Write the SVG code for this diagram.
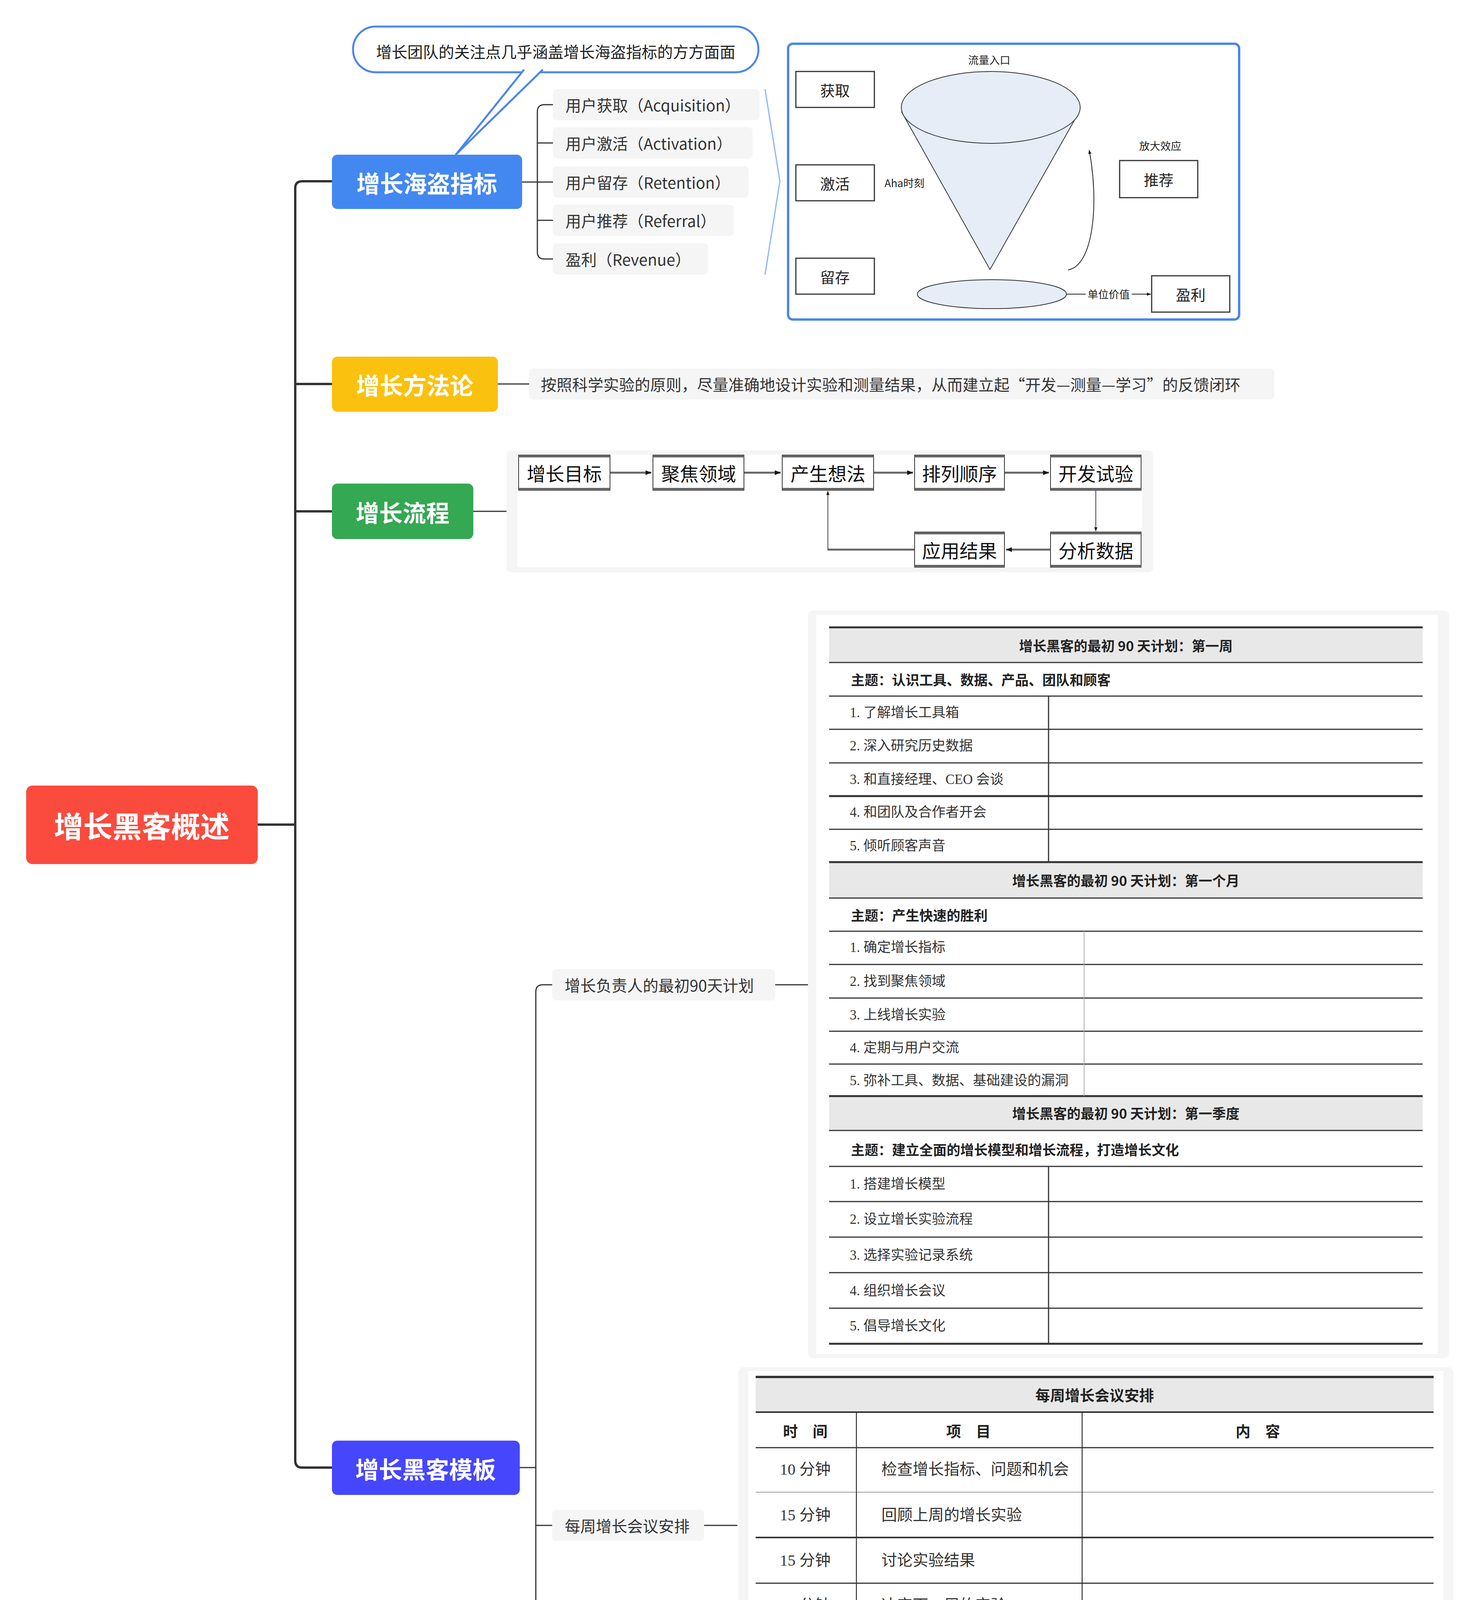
<svg xmlns="http://www.w3.org/2000/svg" width="3777" height="5720" viewBox="0 0 3777 5720">
<style>
.sans{font-family:"Noto Sans CJK SC","Noto Sans",sans-serif;}
.main{font-family:"Noto Sans CJK SC","Noto Sans",sans-serif;font-weight:bold;fill:#fff;text-anchor:middle;dominant-baseline:central;}
.lbl{font-family:"Noto Sans CJK SC","Noto Sans",sans-serif;font-size:40px;fill:#333;dominant-baseline:central;}
.lblbox{fill:#f5f5f5;}
.conn{fill:none;stroke:#333;stroke-linecap:round;}
.trunk{stroke-width:6;}
.thin{stroke-width:3;}
.imgbg{fill:#f5f5f5;}
.band{fill:#e8e8e8;}
.tl{stroke:#333;}
.tt{font-family:"Liberation Serif","Noto Sans CJK SC",serif;fill:#333;dominant-baseline:central;}
.th{font-family:"Noto Sans CJK SC",sans-serif;font-weight:bold;fill:#222;dominant-baseline:central;}
.fl{font-family:"Noto Sans CJK SC",sans-serif;fill:#222;text-anchor:middle;dominant-baseline:central;}
.fbox{fill:#fff;stroke:#333;stroke-width:3;}
.pbox{fill:#fff;stroke:#333;stroke-width:2;}
.pshade{stroke:#666;stroke-width:6;}
.pt{font-family:"Noto Sans CJK SC",sans-serif;font-size:48px;fill:#111;text-anchor:middle;dominant-baseline:central;}
.arr{fill:none;stroke:#666;stroke-width:5;}
</style>
<defs>
<marker id="ah" viewBox="0 0 10 10" refX="10" refY="5" markerWidth="5" markerHeight="5" orient="auto" markerUnits="strokeWidth">
<path d="M0,1 L10,5 L0,9 z" fill="#111"/>
</marker>
<marker id="ahs" viewBox="0 0 10 10" refX="10" refY="5" markerWidth="3" markerHeight="3" orient="auto" markerUnits="strokeWidth">
<path d="M0,1 L10,5 L0,9 z" fill="#111"/>
</marker>
</defs>

<rect width="3777" height="5720" fill="#fff"/>

<!-- connectors -->
<g id="connectors">
<path class="conn trunk" d="M660,2111 H756"/>
<path class="conn trunk" d="M850,464 H774 Q756,464 756,482 V3739 Q756,3757 774,3757 H850"/>
<path class="conn trunk" d="M756,983 H850"/>
<path class="conn trunk" d="M756,1309 H850"/>
<path class="conn thin" d="M1337,466 H1416"/>
<path class="conn thin" d="M1416,268 H1394 Q1376,268 1376,286 V645 Q1376,663 1394,663 H1416"/>
<path class="conn thin" d="M1376,366 H1416 M1376,564 H1416"/>
<path class="conn thin" d="M1275,983 H1355"/>
<path class="conn thin" d="M1212,1309 H1297"/>
<path class="conn thin" d="M1331,3757 H1372"/>
<path class="conn thin" d="M1414,2521 H1390 Q1372,2521 1372,2539 V4979 Q1372,4997 1390,4997 H1414"/>
<path class="conn thin" d="M1372,3905 H1414"/>
<path class="conn thin" d="M1985,2521 H2069"/>
<path class="conn thin" d="M1803,3905 H1887"/>
<path class="conn thin" d="M1926,4997 H2009"/>
<polyline points="1959,228 1997,464 1959,703" fill="none" stroke="#8ab4f8" stroke-width="3"/>
</g>

<g id="root">
<rect x="67" y="2011" width="593" height="201" rx="16" fill="#fa4b3e"/>
<text class="main" x="363" y="2111" font-size="75">增长黑客概述</text>
</g>

<g id="branch-aarrr">
<rect x="850" y="396" width="487" height="139" rx="14" fill="#4388f1"/>
<text class="main" x="1093" y="466" font-size="60">增长海盗指标</text>
</g>

<g id="callout">
<rect x="904" y="68" width="1038" height="117" rx="58" fill="#fff" stroke="#4a86f0" stroke-width="5"/>
<path d="M1342,178 L1167,396 L1390,178" fill="#fff" stroke="#4a86f0" stroke-width="5" stroke-linejoin="round"/>
<text class="sans" x="1423" y="131" font-size="40" fill="#222" text-anchor="middle" dominant-baseline="central">增长团队的关注点几乎涵盖增长海盗指标的方方面面</text>
</g>

<g id="aarrr-1"><rect class="lblbox" x="1416" y="228" width="529" height="80" rx="10"/><text class="lbl" x="1448" y="268">用户获取（Acquisition）</text></g>
<g id="aarrr-2"><rect class="lblbox" x="1416" y="326" width="511" height="80" rx="10"/><text class="lbl" x="1448" y="366">用户激活（Activation）</text></g>
<g id="aarrr-3"><rect class="lblbox" x="1416" y="426" width="501" height="80" rx="10"/><text class="lbl" x="1448" y="466">用户留存（Retention）</text></g>
<g id="aarrr-4"><rect class="lblbox" x="1416" y="524" width="463" height="80" rx="10"/><text class="lbl" x="1448" y="564">用户推荐（Referral）</text></g>
<g id="aarrr-5"><rect class="lblbox" x="1416" y="623" width="397" height="80" rx="10"/><text class="lbl" x="1448" y="663">盈利（Revenue）</text></g>

<g id="funnel">
<rect x="2018" y="112" width="1155" height="706" rx="12" fill="#fff" stroke="#4a86f0" stroke-width="6"/>
<rect class="fbox" x="2038" y="183" width="201" height="92"/>
<text class="fl" x="2138" y="229" font-size="38">获取</text>
<rect class="fbox" x="2038" y="422" width="201" height="92"/>
<text class="fl" x="2138" y="468" font-size="38">激活</text>
<rect class="fbox" x="2038" y="661" width="201" height="92"/>
<text class="fl" x="2138" y="707" font-size="38">留存</text>
<text class="fl" x="2533" y="152" font-size="27">流量入口</text>
<polygon points="2309,287 2535,690 2763,287" fill="#e6edf7" stroke="#333" stroke-width="2"/>
<ellipse cx="2537" cy="275" rx="229" ry="92" fill="#e6edf7" stroke="#333" stroke-width="2"/>
<ellipse cx="2540" cy="753" rx="191" ry="37" fill="#e6edf7" stroke="#333" stroke-width="2"/>
<text class="fl" x="2316" y="467" font-size="27">Aha时刻</text>
<path d="M2735,691 C2800,680 2815,520 2789,384" fill="none" stroke="#222" stroke-width="2" marker-end="url(#ah)"/>
<text class="fl" x="2971" y="372" font-size="27">放大效应</text>
<rect class="fbox" x="2867" y="411" width="200" height="95"/>
<text class="fl" x="2967" y="458" font-size="38">推荐</text>
<rect class="fbox" x="2949" y="706" width="200" height="93"/>
<text class="fl" x="3049" y="752" font-size="38">盈利</text>
<path d="M2731,753 H2780" stroke="#222" stroke-width="2"/>
<text class="fl" x="2839" y="752" font-size="27">单位价值</text>
<path d="M2898,753 H2947" stroke="#222" stroke-width="2" marker-end="url(#ah)"/>
</g>

<g id="branch-method">
<rect x="850" y="913" width="425" height="141" rx="14" fill="#fbc10f"/>
<text class="main" x="1062" y="983" font-size="60">增长方法论</text>
</g>
<g id="method-text">
<rect class="lblbox" x="1355" y="943" width="1908" height="80" rx="10"/>
<text class="lbl" x="1385" y="983" font-size="41">按照科学实验的原则，尽量准确地设计实验和测量结果，从而建立起“开发—测量—学习”的反馈闭环</text>
</g>

<g id="branch-process">
<rect x="850" y="1238" width="362" height="142" rx="14" fill="#34a853"/>
<text class="main" x="1031" y="1309" font-size="60">增长流程</text>
</g>
<g id="process">
<rect class="imgbg" x="1297" y="1153" width="1656" height="312" rx="12"/>
<rect x="1325" y="1164" width="1600" height="288" fill="#fff"/>
<path class="arr" d="M1562,1210 H1668" marker-end="url(#ahs)"/>
<path class="arr" d="M1905,1210 H1999" marker-end="url(#ahs)"/>
<path class="arr" d="M2237,1210 H2338" marker-end="url(#ahs)"/>
<path class="arr" d="M2572,1210 H2686" marker-end="url(#ahs)"/>
<path d="M2806,1255 V1360" fill="none" stroke="#444" stroke-width="2" marker-end="url(#ah)"/>
<path class="arr" d="M2690,1407 H2576" marker-end="url(#ahs)"/>
<path class="arr" d="M2342,1407 H2120"/>
<path d="M2120,1409 V1257" fill="none" stroke="#444" stroke-width="2" marker-end="url(#ah)"/>
<rect class="pbox" x="1328" y="1165" width="234" height="90"/><path class="pshade" d="M1328,1168 H1562 M1328,1252 H1562"/><text class="pt" x="1445" y="1210">增长目标</text>
<rect class="pbox" x="1672" y="1165" width="233" height="90"/><path class="pshade" d="M1672,1168 H1905 M1672,1252 H1905"/><text class="pt" x="1789" y="1210">聚焦领域</text>
<rect class="pbox" x="2003" y="1165" width="234" height="90"/><path class="pshade" d="M2003,1168 H2237 M2003,1252 H2237"/><text class="pt" x="2120" y="1210">产生想法</text>
<rect class="pbox" x="2342" y="1165" width="230" height="90"/><path class="pshade" d="M2342,1168 H2572 M2342,1252 H2572"/><text class="pt" x="2457" y="1210">排列顺序</text>
<rect class="pbox" x="2690" y="1165" width="232" height="90"/><path class="pshade" d="M2690,1168 H2922 M2690,1252 H2922"/><text class="pt" x="2806" y="1210">开发试验</text>
<rect class="pbox" x="2342" y="1362" width="230" height="90"/><path class="pshade" d="M2342,1365 H2572 M2342,1449 H2572"/><text class="pt" x="2457" y="1407">应用结果</text>
<rect class="pbox" x="2690" y="1362" width="232" height="90"/><path class="pshade" d="M2690,1365 H2922 M2690,1449 H2922"/><text class="pt" x="2806" y="1407">分析数据</text>
</g>

<g id="branch-template">
<rect x="850" y="3688" width="481" height="139" rx="14" fill="#4646fc"/>
<text class="main" x="1090" y="3758" font-size="60">增长黑客模板</text>
</g>
<g id="tpl-1"><rect class="lblbox" x="1414" y="2481" width="571" height="80" rx="10"/><text class="lbl" x="1446" y="2521">增长负责人的最初90天计划</text></g>
<g id="tpl-2"><rect class="lblbox" x="1414" y="3865" width="389" height="80" rx="10"/><text class="lbl" x="1446" y="3905">每周增长会议安排</text></g>
<g id="tpl-3"><rect class="lblbox" x="1414" y="4957" width="512" height="80" rx="10"/><text class="lbl" x="1446" y="4997">增长负责人每周任务清单</text></g>

<g id="table-90days">
<rect class="imgbg" x="2069" y="1563" width="1642" height="1914" rx="14"/>
<rect x="2090" y="1574" width="1592" height="1892" fill="#fff"/>
<rect class="band" x="2123" y="1606" width="1520" height="90"/>
<rect class="band" x="2123" y="2207" width="1520" height="92"/>
<rect class="band" x="2123" y="2806" width="1520" height="88"/>
<g class="tl">
<path stroke-width="5" d="M2123,1606 H3643 M2123,2038 H3643 M2123,2207 H3643 M2123,2806 H3643 M2123,3440 H3643"/>
<path stroke-width="3" d="M2123,1696 H3643 M2123,1782 H3643 M2123,1867 H3643 M2123,1953 H3643 M2123,2123 H3643 M2123,2299 H3643 M2123,2384 H3643 M2123,2469 H3643 M2123,2555 H3643 M2123,2640 H3643 M2123,2724 H3643 M2123,2894 H3643 M2123,2986 H3643 M2123,3076 H3643 M2123,3167 H3643 M2123,3258 H3643 M2123,3349 H3643"/>
<path stroke-width="3" d="M2685,1782 V2207 M2685,2986 V3440"/>
<path stroke-width="2" stroke="#aaa" d="M2776,2384 V2806"/>
</g>
<text class="th" x="2883" y="1651" font-size="35" text-anchor="middle">增长黑客的最初 90 天计划：第一周</text>
<text class="th" x="2179" y="1738" font-size="35">主题：认识工具、数据、产品、团队和顾客</text>
<text class="tt" x="2176" y="1824" font-size="35">1.  了解增长工具箱</text>
<text class="tt" x="2176" y="1909" font-size="35">2.  深入研究历史数据</text>
<text class="tt" x="2176" y="1995" font-size="35">3.  和直接经理、CEO 会谈</text>
<text class="tt" x="2176" y="2079" font-size="35">4.  和团队及合作者开会</text>
<text class="tt" x="2176" y="2165" font-size="35">5.  倾听顾客声音</text>
<text class="th" x="2883" y="2252" font-size="35" text-anchor="middle">增长黑客的最初 90 天计划：第一个月</text>
<text class="th" x="2179" y="2341" font-size="35">主题：产生快速的胜利</text>
<text class="tt" x="2176" y="2425" font-size="35">1.  确定增长指标</text>
<text class="tt" x="2176" y="2512" font-size="35">2.  找到聚焦领域</text>
<text class="tt" x="2176" y="2598" font-size="35">3.  上线增长实验</text>
<text class="tt" x="2176" y="2682" font-size="35">4.  定期与用户交流</text>
<text class="tt" x="2176" y="2766" font-size="35">5.  弥补工具、数据、基础建设的漏洞</text>
<text class="th" x="2883" y="2848" font-size="35" text-anchor="middle">增长黑客的最初 90 天计划：第一季度</text>
<text class="th" x="2179" y="2941" font-size="35">主题：建立全面的增长模型和增长流程，打造增长文化</text>
<text class="tt" x="2176" y="3031" font-size="35">1.  搭建增长模型</text>
<text class="tt" x="2176" y="3121" font-size="35">2.  设立增长实验流程</text>
<text class="tt" x="2176" y="3213" font-size="35">3.  选择实验记录系统</text>
<text class="tt" x="2176" y="3304" font-size="35">4.  组织增长会议</text>
<text class="tt" x="2176" y="3394" font-size="35">5.  倡导增长文化</text>
</g>

<g id="table-meeting">
<rect class="imgbg" x="1890" y="3500" width="1832" height="824" rx="14"/>
<rect x="1916" y="3510" width="1780" height="802" fill="#fff"/>
<rect class="band" x="1935" y="3525" width="1736" height="90"/>
<g class="tl">
<path stroke-width="6" d="M1935,3525 H3671 M1935,4284 H3671"/>
<path stroke-width="4" d="M1935,3615 H3671 M1935,3936 H3671"/>
<path stroke-width="3" d="M1935,3706 H3671 M1935,4053 H3671 M1935,4168 H3671"/>
<path stroke-width="2" stroke="#999" d="M1935,3820 H3671"/>
<path stroke-width="2.5" d="M2193,3615 V4284 M2771,3615 V4284"/>
</g>
<text class="th" x="2803" y="3569" font-size="38" text-anchor="middle">每周增长会议安排</text>
<text class="th" x="2062" y="3661" font-size="38" text-anchor="middle">时　间</text>
<text class="th" x="2480" y="3661" font-size="38" text-anchor="middle">项　目</text>
<text class="th" x="3221" y="3661" font-size="38" text-anchor="middle">内　容</text>
<text class="tt" x="2062" y="3761" font-size="40" text-anchor="middle">10 分钟</text>
<text class="tt" x="2257" y="3761" font-size="40">检查增长指标、问题和机会</text>
<text class="tt" x="2062" y="3878" font-size="40" text-anchor="middle">15 分钟</text>
<text class="tt" x="2257" y="3878" font-size="40">回顾上周的增长实验</text>
<text class="tt" x="2062" y="3994" font-size="40" text-anchor="middle">15 分钟</text>
<text class="tt" x="2257" y="3994" font-size="40">讨论实验结果</text>
<text class="tt" x="2062" y="4109" font-size="40" text-anchor="middle">15 分钟</text>
<text class="tt" x="2257" y="4109" font-size="40">决定下一周的实验</text>
<text class="tt" x="2062" y="4226" font-size="40" text-anchor="middle">5 分钟</text>
<text class="tt" x="2257" y="4226" font-size="40">查看备选实验想法</text>
</g>

<g id="table-tasks">
<rect class="imgbg" x="2009" y="4338" width="1711" height="1322" rx="14"/>
<rect x="2038" y="4348" width="1657" height="1300" fill="#fff"/>
<rect class="band" x="2051" y="4365" width="1614" height="84"/>
<g class="tl">
<path stroke-width="6" d="M2051,4365 H3665"/>
<path stroke-width="5" d="M2051,4449 H3665 M2051,5612 H3665"/>
<path stroke-width="4" d="M2051,4809 H3665 M2051,5213 H3665"/>
<path stroke-width="3" d="M2051,4976 H3665 M2051,5295 H3665"/>
<path stroke-width="3" d="M2530,4449 V5612"/>
</g>
<text class="th" x="2858" y="4406" font-size="37" text-anchor="middle">增长负责人每周任务清单</text>
<g class="tt" font-size="37">
<text x="2112" y="4628">持续性任务</text>
<text x="2112" y="4891">增长会议三天前</text>
<text x="2112" y="5092">增长会议一天前</text>
<text x="2112" y="5253">增长会议当天</text>
<text x="2112" y="5455">增长会议后一天</text>
<text x="2640" y="4501">检查未上线实验的开发进度</text>
<text x="2640" y="4564">监测已上线实验的运行结果</text>
<text x="2640" y="4628">管理成功实验的 100% 发布</text>
<text x="2640" y="4691">分析数据、寻找机会</text>
<text x="2640" y="4755">产生新的实验想法</text>
<text x="2640" y="4860">向团队重申目前的聚焦领域</text>
<text x="2640" y="4923">提醒团队提交实验想法</text>
<text x="2640" y="5029">和数据分析师一起更新关键指标</text>
<text x="2640" y="5092">分析已结束的实验</text>
<text x="2640" y="5157">提醒团队成员提供实验想法和提交实验心得</text>
<text x="2640" y="5253">组织增长会议</text>
<text x="2640" y="5358">分派实验任务</text>
<text x="2640" y="5421">制定实验方案</text>
<text x="2640" y="5485">和设计师沟通设计思路</text>
<text x="2640" y="5549">和程序员沟通开发方案</text>
</g>
<g fill="#222">
<ellipse cx="2607" cy="4501" rx="5" ry="7"/>
<ellipse cx="2607" cy="4564" rx="5" ry="7"/>
<ellipse cx="2607" cy="4628" rx="5" ry="7"/>
<ellipse cx="2607" cy="4691" rx="5" ry="7"/>
<ellipse cx="2607" cy="4755" rx="5" ry="7"/>
<ellipse cx="2607" cy="4860" rx="5" ry="7"/>
<ellipse cx="2607" cy="4923" rx="5" ry="7"/>
<ellipse cx="2607" cy="5029" rx="5" ry="7"/>
<ellipse cx="2607" cy="5092" rx="5" ry="7"/>
<ellipse cx="2607" cy="5157" rx="5" ry="7"/>
<ellipse cx="2607" cy="5253" rx="5" ry="7"/>
<ellipse cx="2607" cy="5358" rx="5" ry="7"/>
<ellipse cx="2607" cy="5421" rx="5" ry="7"/>
<ellipse cx="2607" cy="5485" rx="5" ry="7"/>
<ellipse cx="2607" cy="5549" rx="5" ry="7"/>
</g>
</g>
</svg>
